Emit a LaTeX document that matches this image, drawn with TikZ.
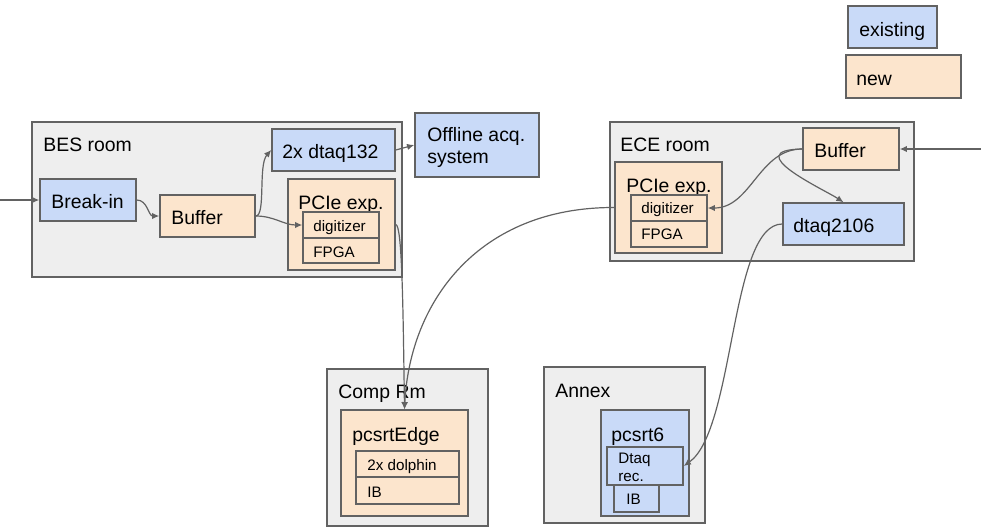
\documentclass[tikz,border=0pt]{standalone}
\usepackage{fontspec}
\setmainfont{Liberation Sans}
\usetikzlibrary{fit,arrows.meta}
\definecolor{oldbox}{RGB}{201,218,248}
\definecolor{newbox}{RGB}{252,229,205}
\definecolor{roomgray}{RGB}{238,238,238}
\definecolor{edgegray}{RGB}{98,98,98}
\tikzset{
  room/.style={draw=edgegray, fill=roomgray, line width=0.75pt, inner sep=0pt},
  oldunit/.style={draw=edgegray, fill=oldbox, line width=0.75pt, inner sep=0pt},
  newunit/.style={draw=edgegray, fill=newbox, line width=0.75pt, inner sep=0pt},
  lbl/.style={anchor=base west, inner sep=0pt, font=\fontsize{9.7}{11}\selectfont},
  smalltxt/.style={anchor=base west, inner sep=0pt, font=\fontsize{7.6}{9}\selectfont},
  link/.style={draw=edgegray, line width=0.6pt, ->, >={Latex[length=3.6pt,width=3.2pt]}},
}

\begin{document}
\begin{tikzpicture}[x=0.5pt,y=-0.5pt]
\useasboundingbox (0,0) rectangle (981,527);
% legend
\node[oldunit, fit={(848,6) (937,48)}] (keyold) {};
\node[lbl] (keyoldtxt) at (859,36) {existing};
\node[newunit, fit={(846,55) (961,98)}] (keynew) {};
\node[lbl] (keynewtxt) at (856,85) {new};

% BES room
\node[room, fit={(32,122) (402,277)}] (bes) {};
\node[lbl] (bestxt) at (43,151) {BES room};
\node[oldunit, fit={(40,179) (136,221)}] (breakin) {};
\node[lbl] (breakintxt) at (51,208) {Break-in};
\node[newunit, fit={(160,195) (255,237)}] (buf1) {};
\node[lbl] (buf1txt) at (171,224) {Buffer};
\node[oldunit, fit={(272,129) (395,171)}] (dtaq132) {};
\node[lbl] (dtaq132txt) at (282,158) {2x dtaq132};
\node[newunit, fit={(288,179) (395,270)}] (pcie1) {};
\node[lbl] (pcie1txt) at (298,209) {PCIe exp.};
\node[newunit, fit={(303,212) (379,238)}] (dig1) {};
\node[smalltxt] (dig1txt) at (313,231) {digitizer};
\node[newunit, fit={(303,238) (379,263)}] (fpga1) {};
\node[smalltxt] (fpga1txt) at (313,257) {FPGA};

\node[oldunit, fit={(415,113) (539,177)}] (offline) {};
\node[lbl, align=left] (offlinetxt) at (427,163) {Offline acq.\\system};

% ECE room
\node[room, fit={(610,122) (914,261)}] (ece) {};
\node[lbl] (ecetxt) at (620,151) {ECE room};
\node[newunit, fit={(803,128) (899,170)}] (buf2) {};
\node[lbl] (buf2txt) at (814,157) {Buffer};
\node[newunit, fit={(615,162) (722,253)}] (pcie2) {};
\node[lbl] (pcie2txt) at (626,192) {PCIe exp.};
\node[newunit, fit={(631,195) (707,221)}] (dig2) {};
\node[smalltxt] (dig2txt) at (641,213) {digitizer};
\node[newunit, fit={(631,221) (707,247)}] (fpga2) {};
\node[smalltxt] (fpga2txt) at (641,239) {FPGA};
\node[oldunit, fit={(783,203) (904,245)}] (dtaq2106) {};
\node[lbl] (dtaq2106txt) at (793,232) {dtaq2106};

% Comp Rm
\node[room, fit={(327,369) (488,526)}] (comp) {};
\node[lbl] (comptxt) at (338,398) {Comp Rm};
\node[newunit, fit={(341,410) (468,516)}] (edge) {};
\node[lbl] (edgetxt) at (352,441) {pcsrtEdge};
\node[newunit, fit={(356,451) (459,477)}] (dolphin) {};
\node[smalltxt] (dolphintxt) at (367,470) {2x dolphin};
\node[newunit, fit={(356,477) (459,504)}] (ib1) {};
\node[smalltxt] (ib1txt) at (367,497) {IB};

% Annex
\node[room, fit={(544,367) (705,523)}] (annex) {};
\node[lbl] (annextxt) at (555,397) {Annex};
\node[oldunit, fit={(601,410) (689,516)}] (pcsrt6) {};
\node[lbl] (pcsrt6txt) at (611,441) {pcsrt6};
\node[oldunit, fit={(614,485) (659,512)}] (ib2) {};
\node[smalltxt] (ib2txt) at (626,504) {IB};
\node[oldunit, fit={(607,447) (683,485)}] (dtaqrec) {};
\node[smalltxt, align=left] (dtaqrectxt) at (618,481) {Dtaq\\rec.};

% links
\coordinate (westin) at (0,200);
\coordinate (eastin) at (981,149);
\draw[link] (westin) -- (breakin.west);
\draw[link] (breakin.east) to[out=0,in=180] (buf1.west);
\draw[link] (buf1.east) .. controls (266,216) and (258,165) .. (dtaq132.west);
\draw[link] (buf1.east) to[out=0,in=180] (dig1.west);
\draw[link] (dtaq132.east) -- (offline.west);
\draw[link] (pcie1.east) .. controls (402,225) and (403,300) .. (edge.north);
\draw[link] (pcie2.west) .. controls (480,207) and (410,300) .. (edge.north);
\draw[link] (eastin) -- (buf2.east);
\draw[link] (buf2.west) to[out=180,in=0] (dig2.east);
\draw[link] (buf2.west) .. controls (738,150) and (825,190) .. (dtaq2106.north);
\draw[link] (dtaq2106.west) .. controls (730,224) and (735,430) .. (dtaqrec.east);
\end{tikzpicture}
\end{document}
